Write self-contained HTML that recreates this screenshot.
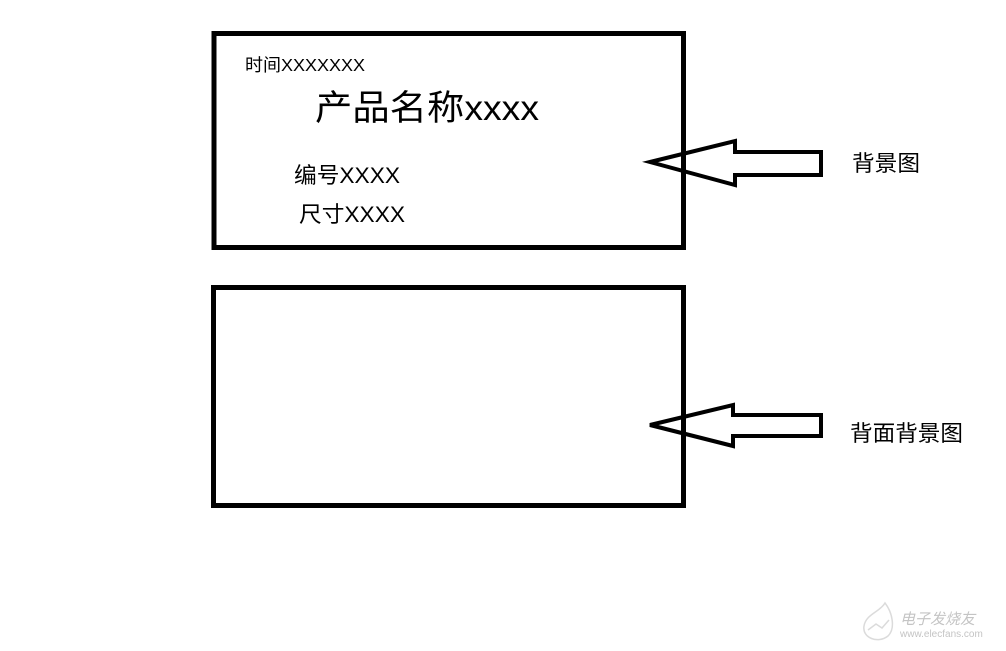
<!DOCTYPE html>
<html><head><meta charset="utf-8"><style>
html,body{margin:0;padding:0;background:#fff;width:1006px;height:651px;overflow:hidden}
svg{display:block}
text{font-family:"Liberation Sans","Noto Sans CJK SC",sans-serif;fill:#000}
</style></head><body>
<svg width="1006" height="651" viewBox="0 0 1006 651" xmlns="http://www.w3.org/2000/svg">
<rect x="214" y="33.5" width="469.5" height="214" fill="none" stroke="#000" stroke-width="5"/>
<rect x="213.5" y="287.5" width="470" height="218" fill="none" stroke="#000" stroke-width="5"/>
<polygon points="650,162 735,141 735,152 821,152 821,175 735,175 735,185" fill="none" stroke="#000" stroke-width="4" stroke-linejoin="miter"/>
<polygon points="650,425 733,405 733,415 821,415 821,436 733,436 733,446" fill="none" stroke="#000" stroke-width="4" stroke-linejoin="miter"/>
<text x="245" y="71" font-size="17.5" textLength="120" lengthAdjust="spacingAndGlyphs">时间XXXXXXX</text>
<text x="315" y="120" font-size="35" textLength="224" lengthAdjust="spacingAndGlyphs">产品名称xxxx</text>
<text x="294" y="183" font-size="22" textLength="106" lengthAdjust="spacingAndGlyphs">编号XXXX</text>
<text x="299" y="222" font-size="22" textLength="106" lengthAdjust="spacingAndGlyphs">尺寸XXXX</text>
<text x="852" y="171" font-size="22" textLength="68" lengthAdjust="spacingAndGlyphs">背景图</text>
<text x="850" y="441" font-size="22" textLength="113" lengthAdjust="spacingAndGlyphs">背面背景图</text>
<g opacity="0.35" fill="none" stroke="#999" stroke-width="1.5">
<path d="M885,603 C880,612 866,614 864,626 C862,638 878,644 888,636 C896,628 892,612 885,603 Z"/>
<path d="M868,630 L876,624 L882,628 L889,620"/>
</g>
<text x="900" y="624" font-size="15" fill="#bbb" style="fill:#c4c4c4;font-style:italic">电子发烧友</text>
<text x="900" y="637" font-size="10" style="fill:#c4c4c4">www.elecfans.com</text>
</svg>
</body></html>
